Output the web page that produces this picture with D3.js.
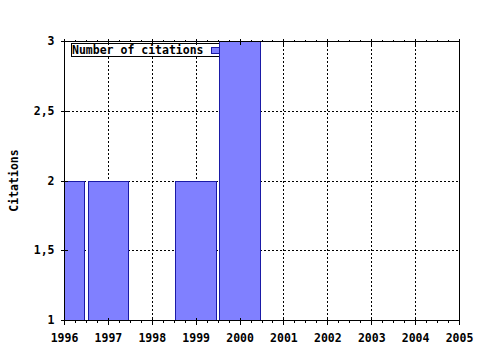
<!DOCTYPE html>
<html lang="en">
<head>
<meta charset="UTF-8">
<title>Citations</title>
<style>
    body { margin: 0; background: #fff; }
    text { font-family: "DejaVu Sans Mono", monospace; font-weight: bold; font-size: 11.5px; fill: #000; }
    .grid line { stroke: #000; stroke-dasharray: 2,2; shape-rendering: crispEdges; }
    .axis path, .axis line { stroke: #000; shape-rendering: crispEdges; }
    .bar { fill: #8080ff; stroke: #1a1aa6; stroke-width: 1; shape-rendering: crispEdges; }
</style>
</head>
<body>
<script src="https://d3js.org/d3.v7.min.js"></script>
<script>
    const years = [1996, 1997, 1999, 2000];
    const citations = [2, 2, 2, 3];
    const yearTicks = [1996, 1997, 1998, 1999, 2000, 2001, 2002, 2003, 2004, 2005];
    const valueTicks = [1, 1.5, 2, 2.5, 3];
    const seriesName = "Number of citations";
    const yTitle = "Citations";

    const width = 480, height = 350;
    const plotL = 64, plotR = 459, plotT = 41, plotB = 320;

    const x = d3.scaleLinear().domain([1996, 2005]).range([plotL, plotR]);
    const y = d3.scaleLinear().domain([1, 3]).range([plotB, plotT]);

    const svg = d3.select("body").append("svg")
        .attr("width", width)
        .attr("height", height);

    svg.append("clipPath").attr("id", "plot")
        .append("rect")
        .attr("x", plotL).attr("y", plotT)
        .attr("width", plotR - plotL).attr("height", plotB - plotT);

    // grid
    const grid = svg.append("g").attr("class", "grid");
    grid.selectAll(".gx")
        .data(yearTicks.slice(1, -1))
        .join("line")
        .attr("x1", d => Math.round(x(d)) + 0.5).attr("x2", d => Math.round(x(d)) + 0.5)
        .attr("y1", plotT).attr("y2", plotB);
    grid.selectAll(".gy")
        .data(valueTicks.slice(1, -1))
        .join("line")
        .attr("y1", d => Math.round(y(d)) + 0.5).attr("y2", d => Math.round(y(d)) + 0.5)
        .attr("x1", plotL).attr("x2", plotR);

    // legend (sits under the bars)
    const legend = svg.append("g");
    legend.append("rect")
        .attr("x", 71.5).attr("y", 43.5)
        .attr("width", 150).attr("height", 13)
        .attr("fill", "#fff").attr("stroke", "#000");
    legend.append("text")
        .attr("x", 72).attr("y", 54)
        .text(seriesName);
    legend.append("rect")
        .attr("class", "bar")
        .attr("x", 211.5).attr("y", 47.5)
        .attr("width", 10).attr("height", 6);

    // bars
    const half = 0.46;
    svg.append("g")
        .attr("clip-path", "url(#plot)")
        .selectAll("rect")
        .data(years.map((yr, i) => ({ yr, v: citations[i] })))
        .join("rect")
        .attr("class", "bar")
        .attr("x", d => Math.round(x(d.yr - half)) + 0.5)
        .attr("width", d => Math.round(x(d.yr + half)) - Math.round(x(d.yr - half)))
        .attr("y", d => Math.round(y(d.v)) + 0.5)
        .attr("height", d => Math.round(y(1)) - Math.round(y(d.v)));

    // frame
    svg.append("rect")
        .attr("x", plotL + 0.5).attr("y", plotT + 0.5)
        .attr("width", plotR - plotL).attr("height", plotB - plotT)
        .attr("fill", "none").attr("stroke", "#000")
        .style("shape-rendering", "crispEdges");

    const minor = d3.range(0, 37).map(i => 1996 + i * 0.25);

    // bottom axis
    svg.append("g").attr("class", "axis")
        .attr("transform", `translate(0,${plotB + 0.5})`)
        .call(d3.axisBottom(x).tickValues(minor).tickSize(2).tickFormat(""))
        .call(g => g.select(".domain").remove());
    svg.append("g").attr("class", "axis")
        .attr("transform", `translate(0,${plotB + 0.5})`)
        .call(d3.axisBottom(x).tickValues(yearTicks).tickSize(4).tickPadding(9).tickFormat(d3.format("d")))
        .call(g => g.select(".domain").remove())
        .call(g => g.selectAll("line").attr("y1", -3));

    // top axis
    svg.append("g").attr("class", "axis")
        .attr("transform", `translate(0,${plotT + 0.5})`)
        .call(d3.axisTop(x).tickValues(minor).tickSize(2).tickFormat(""))
        .call(g => g.select(".domain").remove());
    svg.append("g").attr("class", "axis")
        .attr("transform", `translate(0,${plotT + 0.5})`)
        .call(d3.axisTop(x).tickValues(yearTicks).tickSize(3).tickFormat(""))
        .call(g => g.select(".domain").remove())
        .call(g => g.selectAll("line").attr("y1", 3));

    // left axis
    svg.append("g").attr("class", "axis")
        .attr("transform", `translate(${plotL + 0.5},0)`)
        .call(d3.axisLeft(y).tickValues(valueTicks).tickSize(4).tickPadding(6)
            .tickFormat(d => String(d).replace(".", ",")))
        .call(g => g.select(".domain").remove())
        .call(g => g.selectAll("line").attr("x1", 3));

    svg.selectAll(".axis text").style("font-family", "\"DejaVu Sans Mono\", monospace").style("font-size", "11.5px").style("font-weight", "bold");

    svg.append("text")
        .attr("transform", `translate(18,${(plotT + plotB) / 2}) rotate(-90)`)
        .attr("text-anchor", "middle")
        .text(yTitle);
</script>
</body>
</html>
